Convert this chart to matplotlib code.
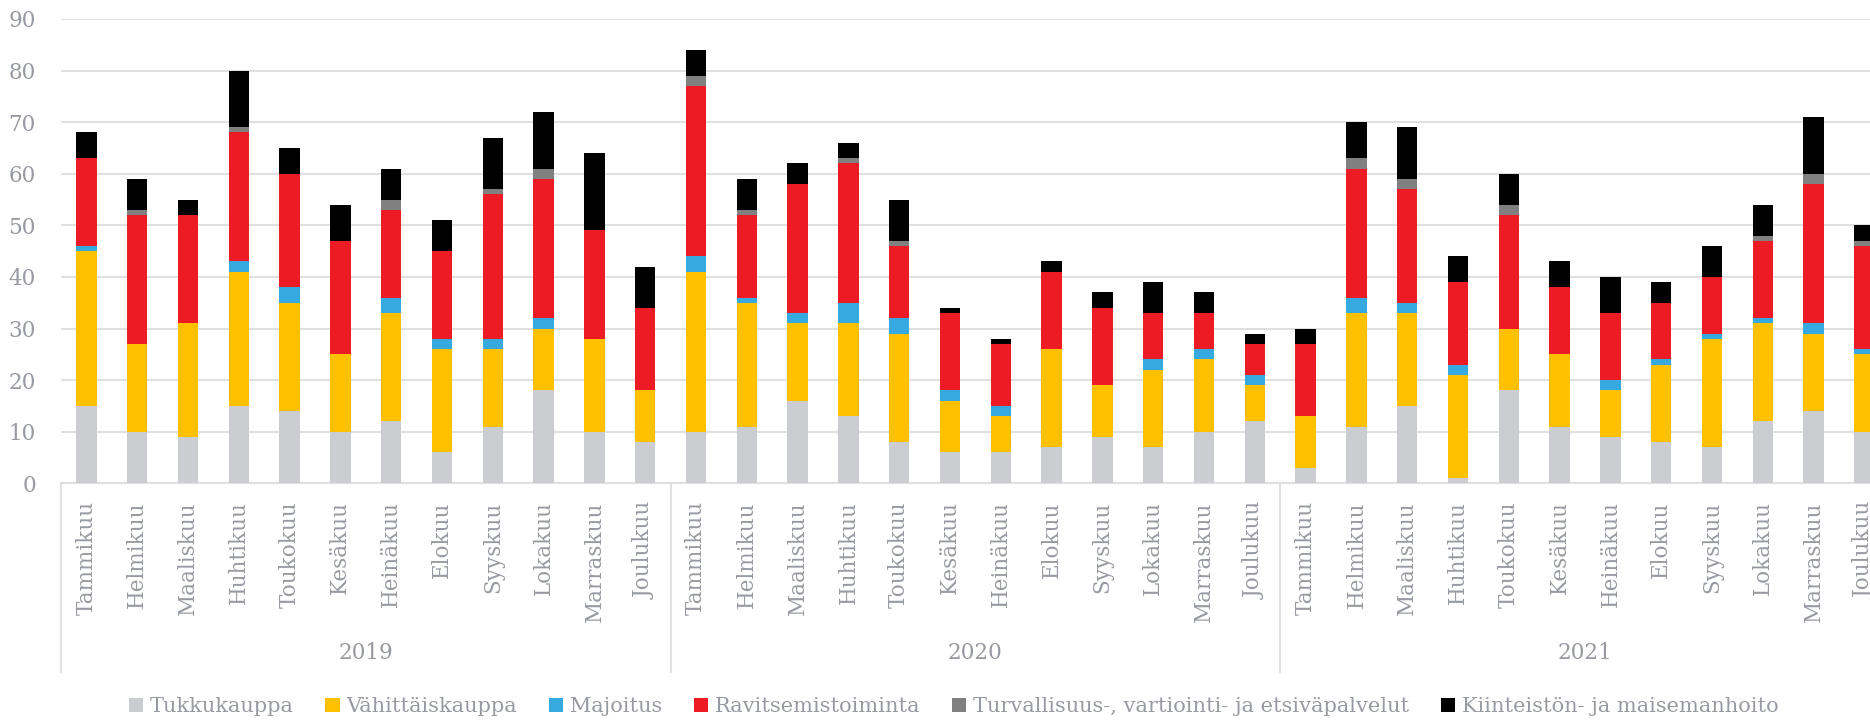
import numpy as np
import matplotlib
matplotlib.use("Agg")
import matplotlib.pyplot as plt
import matplotlib.transforms as mtransforms

months = ["Tammikuu", "Helmikuu", "Maaliskuu", "Huhtikuu", "Toukokuu", "Kesäkuu",
          "Heinäkuu", "Elokuu", "Syyskuu", "Lokakuu", "Marraskuu", "Joulukuu"]
years = ["2019", "2020", "2021"]

series_names = ["Tukkukauppa", "Vähittäiskauppa", "Majoitus", "Ravitsemistoiminta",
                "Turvallisuus-, vartiointi- ja etsiväpalvelut", "Kiinteistön- ja maisemanhoito"]

tukkukauppa = [15, 10, 9, 15, 14, 10, 12, 6, 11, 18, 10, 8,
               10, 11, 16, 13, 8, 6, 6, 7, 9, 7, 10, 12,
               3, 11, 15, 1, 18, 11, 9, 8, 7, 12, 14, 10]
vahittaiskauppa = [30, 17, 22, 26, 21, 15, 21, 20, 15, 12, 18, 10,
                   31, 24, 15, 18, 21, 10, 7, 19, 10, 15, 14, 7,
                   10, 22, 18, 20, 12, 14, 9, 15, 21, 19, 15, 15]
majoitus = [1, 0, 0, 2, 3, 0, 3, 2, 2, 2, 0, 0,
            3, 1, 2, 4, 3, 2, 2, 0, 0, 2, 2, 2,
            0, 3, 2, 2, 0, 0, 2, 1, 1, 1, 2, 1]
ravitsemistoiminta = [17, 25, 21, 25, 22, 22, 17, 17, 28, 27, 21, 16,
                      33, 16, 25, 27, 14, 15, 12, 15, 15, 9, 7, 6,
                      14, 25, 22, 16, 22, 13, 13, 11, 11, 15, 27, 20]
turvallisuus = [0, 1, 0, 1, 0, 0, 2, 0, 1, 2, 0, 0,
                2, 1, 0, 1, 1, 0, 0, 0, 0, 0, 0, 0,
                0, 2, 2, 0, 2, 0, 0, 0, 0, 1, 2, 1]
kiinteisto = [5, 6, 3, 11, 5, 7, 6, 6, 10, 11, 15, 8,
              5, 6, 4, 3, 8, 1, 1, 2, 3, 6, 4, 2,
              3, 7, 10, 5, 6, 5, 7, 4, 6, 6, 11, 3]

colors = ["#CCCDD1", "#FFC000", "#36A9E1", "#ED1C24", "#808080", "#000000"]
text_color = "#989AA2"
grid_color = "#E0E0E0"


def main():
    plt.rcParams["font.family"] = ["DejaVu Serif"]
    data = [tukkukauppa, vahittaiskauppa, majoitus, ravitsemistoiminta, turvallisuus, kiinteisto]
    x = np.arange(len(months) * len(years))

    fig = plt.figure(figsize=(18.7, 7.24), dpi=100)
    ax = fig.add_axes([0.0326, 0.3325, 0.978, 0.6413])

    bottom = np.zeros(len(x))
    for name, vals, col in zip(series_names, data, colors):
        vals = np.array(vals, dtype=float)
        ax.bar(x, vals, width=0.4, bottom=bottom, color=col, label=name, zorder=3)
        bottom += vals

    ax.set_xlim(-0.5, len(x) - 0.5)
    ax.set_ylim(0, 90)
    ax.set_yticks(np.arange(0, 91, 10))
    ax.yaxis.grid(True, color=grid_color, lw=1.5, zorder=0)
    ax.tick_params(axis="y", length=0, pad=18, labelsize=15.5, labelcolor=text_color)

    ax.set_xticks(x)
    ax.set_xticklabels(months * len(years), rotation=90, va="top", ha="center")
    ax.tick_params(axis="x", length=0, pad=13, labelsize=15.5, labelcolor=text_color)

    for s in ["top", "right", "left"]:
        ax.spines[s].set_visible(False)
    ax.spines["bottom"].set_color(grid_color)
    ax.spines["bottom"].set_linewidth(1.5)

    # year groups below the month labels
    trans = mtransforms.blended_transform_factory(ax.transData, ax.transAxes)
    for i, yr in enumerate(years):
        start = i * len(months) - 0.5
        ax.plot([start, start], [0, -0.407], transform=trans, color=grid_color,
                lw=1.5, clip_on=False)
        ax.text(start + len(months) / 2, -0.366, yr, transform=trans, ha="center",
                va="center", fontsize=15.5, color=text_color)

    fig.legend(loc="center", bbox_to_anchor=(0.51, 0.0235), ncol=6, frameon=False,
               fontsize=15, labelcolor=text_color, handlelength=0.7, handleheight=0.66,
               handletextpad=0.33, columnspacing=1.5)

    fig.savefig("out.png", dpi=100)
    plt.close(fig)


if __name__ == "__main__":
    main()
